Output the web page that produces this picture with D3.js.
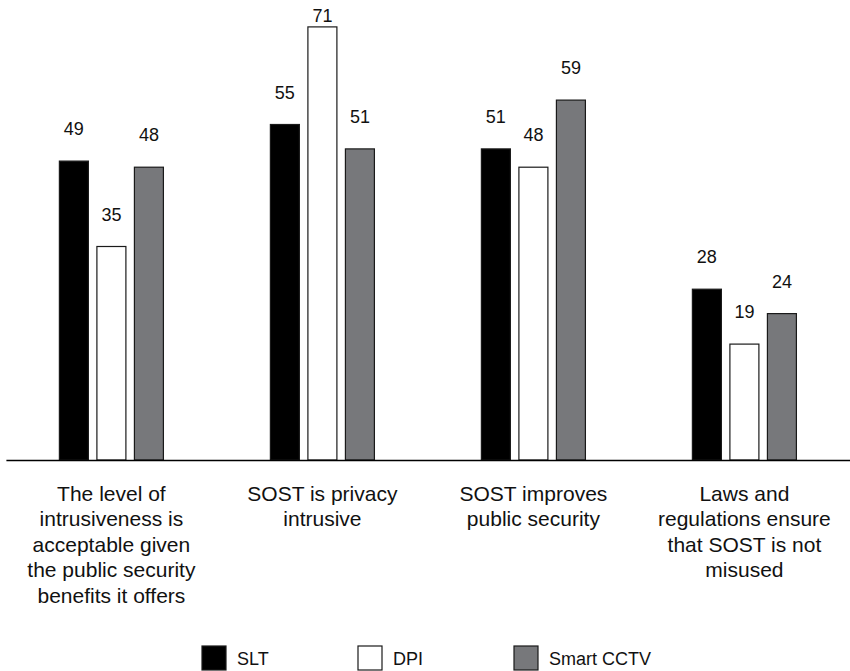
<!DOCTYPE html>
<html>
<head>
<meta charset="utf-8">
<script src="https://cdn.jsdelivr.net/npm/d3@7/dist/d3.min.js"></script>
<style>
  html, body { margin: 0; padding: 0; background: #fff; }
  svg { display: block; font-family: "Liberation Sans", Arial, Helvetica, sans-serif; }
  .value-label { font-size: 18px; fill: #111; }
  .cat-label { font-size: 21px; fill: #111; }
  .legend-text { font-size: 18px; fill: #111; }
</style>
</head>
<body>
<div id="bar_chart"></div>
<script>
// Categories (each one split into the lines shown under the axis)
const categories = [
  'The level of intrusiveness is acceptable given the public security benefits it offers',
  'SOST is privacy intrusive',
  'SOST improves public security',
  'Laws and regulations ensure that SOST is not misused'
]
const categoryLines = [
  ['The level of', 'intrusiveness is', 'acceptable given', 'the public security', 'benefits it offers'],
  ['SOST is privacy', 'intrusive'],
  ['SOST improves', 'public security'],
  ['Laws and', 'regulations ensure', 'that SOST is not', 'misused']
]

// Series
const seriesNames = ['SLT', 'DPI', 'Smart CCTV']
const sltValues = [49, 55, 51, 28]
const dpiValues = [35, 71, 48, 19]
const cctvValues = [48, 51, 59, 24]

const seriesValues = [sltValues, dpiValues, cctvValues]
const seriesFill = { 'SLT': '#000000', 'DPI': '#ffffff', 'Smart CCTV': '#77787b' }

// Dimensions
const width = 850
const height = 671
const baseY = 460

const svg = d3.select('#bar_chart')
  .append('svg')
  .attr('width', width)
  .attr('height', height)

// Scales
const x0 = d3.scaleBand()
  .domain(categories)
  .range([5.9, 849.9])

const x1 = d3.scaleBand()
  .domain(seriesNames)
  .range([-56.25, 56.25])
  .paddingInner(0.227)
  .paddingOuter(0.113)

const y = d3.scaleLinear()
  .domain([0, 75])
  .range([baseY, baseY - 75 * 6.1])

// Build rows for the bars
const rows = []
categories.forEach((cat, i) => {
  seriesNames.forEach((name, j) => {
    rows.push({ cat: cat, series: name, value: seriesValues[j][i] })
  })
})

const groupCenter = (cat) => x0(cat) + x0.bandwidth() / 2

// Bars
svg.append('g')
  .selectAll('rect')
  .data(rows)
  .join('rect')
  .attr('x', d => groupCenter(d.cat) + x1(d.series))
  .attr('y', d => y(d.value))
  .attr('width', x1.bandwidth())
  .attr('height', d => y(0) - y(d.value))
  .attr('fill', d => seriesFill[d.series])
  .attr('stroke', '#1a1a1a')
  .attr('stroke-width', 1.2)

// Value labels
svg.append('g')
  .selectAll('text')
  .data(rows)
  .join('text')
  .attr('class', 'value-label')
  .attr('x', d => groupCenter(d.cat) + x1(d.series) + x1.bandwidth() / 2)
  .attr('y', d => Math.max(y(d.value) - 26, 22))
  .attr('text-anchor', 'middle')
  .text(d => d.value)

// Bottom axis - baseline only, labels drawn below
const axis = svg.append('g')
  .attr('transform', `translate(0, ${baseY})`)
  .call(d3.axisBottom(x0).tickSize(0).tickSizeOuter(0).tickFormat(''))

axis.select('.domain')
  .attr('stroke', '#000')
  .attr('stroke-width', 1.6)

// Multi-line category labels
const catText = svg.append('g')
  .selectAll('text')
  .data(categories)
  .join('text')
  .attr('class', 'cat-label')
  .attr('text-anchor', 'middle')
  .attr('x', d => groupCenter(d))
  .attr('y', 501)

catText.selectAll('tspan')
  .data((d, i) => categoryLines[i])
  .join('tspan')
  .attr('x', function () { return d3.select(this.parentNode).attr('x') })
  .attr('dy', (d, i) => i === 0 ? 0 : 25.4)
  .text(d => d)

// Legend
const legendX = d3.scalePoint()
  .domain(seriesNames)
  .range([202, 514])

const legend = svg.append('g')
  .selectAll('g')
  .data(seriesNames)
  .join('g')
  .attr('transform', d => `translate(${legendX(d)}, 646)`)

legend.append('rect')
  .attr('width', 24)
  .attr('height', 24)
  .attr('fill', d => seriesFill[d])
  .attr('stroke', '#1a1a1a')
  .attr('stroke-width', 1.2)

legend.append('text')
  .attr('class', 'legend-text')
  .attr('x', 35)
  .attr('y', 19)
  .text(d => d)
</script>
</body>
</html>
